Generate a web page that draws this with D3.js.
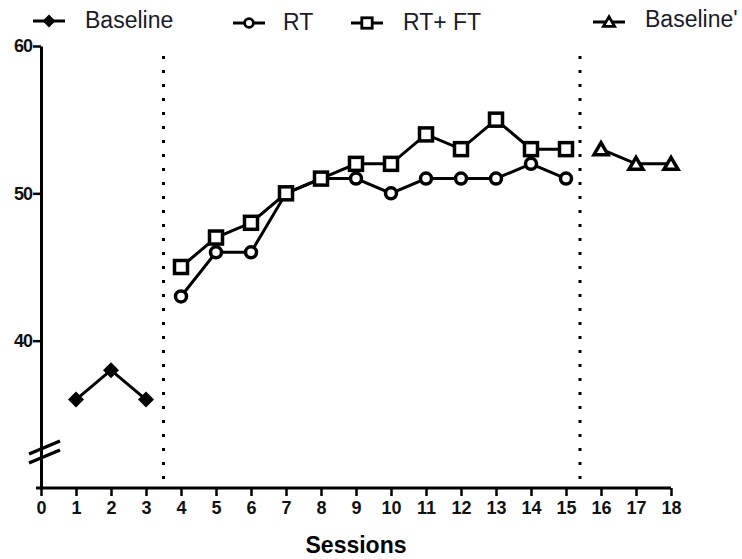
<!DOCTYPE html>
<html>
<head>
<meta charset="utf-8">
<script src="https://cdn.jsdelivr.net/npm/d3@7"></script>
<style>
  body { margin: 0; background: #fff; }
  svg { display: block; font-family: "Liberation Sans", Arial, sans-serif; }
</style>
</head>
<body>
<svg id="chart" width="742" height="559"></svg>
<script>
// phase data
const baselineX = [1, 2, 3]
const baselineY = [36, 38, 36]
const rtX = [4, 5, 6, 7, 8, 9, 10, 11, 12, 13, 14, 15]
const rtY = [43, 46, 46, 50, 51, 51, 50, 51, 51, 51, 52, 51]
const rtftX = [4, 5, 6, 7, 8, 9, 10, 11, 12, 13, 14, 15]
const rtftY = [45, 47, 48, 50, 51, 52, 52, 54, 53, 55, 53, 53]
const baseline2X = [16, 17, 18]
const baseline2Y = [53, 52, 52]
const phaseLines = [3.5, 15.4]
const xTicks = d3.range(0, 19)
const yTicks = [40, 50, 60]
const legendNames = ["Baseline", "RT", "RT+ FT", "Baseline'"]

const svg = d3.select("#chart")
const x = d3.scaleLinear().domain([0, 18]).range([41, 671])
const y = d3.scaleLinear().domain([30, 60]).range([488, 46])

// axes
const yAxis = svg.append("g")
  .attr("transform", `translate(${x(0)},0)`)
  .call(d3.axisLeft(y).tickValues(yTicks).tickSize(8).tickPadding(1).tickSizeOuter(0))
yAxis.select(".domain").attr("stroke-width", 3).attr("stroke", "#000")
yAxis.selectAll(".tick line").attr("stroke-width", 2.5)
yAxis.selectAll(".tick text")
  .attr("font-size", 18).attr("font-weight", "bold").attr("fill", "#111")
  .attr("font-family", "Liberation Sans, Arial, sans-serif")
  .attr("letter-spacing", -1)

const xAxis = svg.append("g")
  .attr("transform", `translate(0,${y(30)})`)
  .call(d3.axisBottom(x).tickValues(xTicks).tickSize(8).tickPadding(5).tickSizeOuter(0))
xAxis.select(".domain").remove()
xAxis.append("line")
  .attr("x1", x(0) - 5).attr("x2", x(18))
  .attr("stroke", "#000").attr("stroke-width", 3)
xAxis.selectAll(".tick line").attr("stroke-width", 2.5)
xAxis.selectAll(".tick text")
  .attr("font-size", 18).attr("font-weight", "bold").attr("fill", "#111")
  .attr("font-family", "Liberation Sans, Arial, sans-serif")

svg.append("text")
  .attr("x", 356).attr("y", 553)
  .attr("text-anchor", "middle")
  .attr("font-size", 23).attr("font-weight", "bold")
  .text("Sessions")

// axis break marks
const bx = x(0)
;[0, 9].forEach(off => {
  svg.append("line")
    .attr("x1", bx - 12).attr("y1", 454 + off)
    .attr("x2", bx + 19).attr("y2", 441 + off)
    .attr("stroke", "#000").attr("stroke-width", 3.5)
})

// phase change lines
svg.selectAll(".phase")
  .data(phaseLines)
  .enter()
  .append("line")
  .attr("class", "phase")
  .attr("x1", d => x(d)).attr("x2", d => x(d))
  .attr("y1", 56).attr("y2", y(30))
  .attr("stroke", "#000").attr("stroke-width", 3)
  .attr("stroke-dasharray", "3,11")

// marker drawing
function drawMarker(g, type, s) {
  s = s || 1
  if (type === "diamond") {
    g.append("path")
      .attr("d", `M0,${-8 * s}L${8 * s},0L0,${8 * s}L${-8 * s},0Z`)
      .attr("fill", "#000")
  } else if (type === "circle") {
    g.append("circle").attr("r", 5.5 * s)
      .attr("fill", "#fff").attr("stroke", "#000").attr("stroke-width", 3.5 * s)
  } else if (type === "square") {
    g.append("rect").attr("x", -6.5 * s).attr("y", -6.5 * s)
      .attr("width", 13 * s).attr("height", 13 * s)
      .attr("fill", "#fff").attr("stroke", "#000").attr("stroke-width", 3.5 * s)
  } else {
    g.append("path")
      .attr("d", `M0,${-6.5 * s}L${7 * s},${5.5 * s}L${-7 * s},${5.5 * s}Z`)
      .attr("fill", "#fff").attr("stroke", "#000").attr("stroke-width", 3.5 * s)
  }
}

const line = d3.line().x(d => x(d[0])).y(d => y(d[1]))

function drawSeries(xs, ys, type) {
  const pts = xs.map((d, i) => [d, ys[i]])
  svg.append("path")
    .datum(pts)
    .attr("d", line)
    .attr("fill", "none").attr("stroke", "#000").attr("stroke-width", 3)
  svg.selectAll(null)
    .data(pts)
    .enter()
    .append("g")
    .attr("transform", d => `translate(${x(d[0])},${y(d[1])})`)
    .each(function () { drawMarker(d3.select(this), type) })
}

drawSeries(baselineX, baselineY, "diamond")
drawSeries(rtX, rtY, "circle")
drawSeries(rtftX, rtftY, "square")
drawSeries(baseline2X, baseline2Y, "triangle")

// legend
const legendItems = [
  { name: legendNames[0], type: "diamond", cx: 49, cy: 21, tx: 85, ty: 28 },
  { name: legendNames[1], type: "circle", cx: 249, cy: 23, tx: 283, ty: 30 },
  { name: legendNames[2], type: "square", cx: 367, cy: 23, tx: 403, ty: 30 },
  { name: legendNames[3], type: "triangle", cx: 609, cy: 22, tx: 645, ty: 27 }
]
legendItems.forEach(d => {
  svg.append("line")
    .attr("x1", d.cx - 16).attr("x2", d.cx + 16)
    .attr("y1", d.cy).attr("y2", d.cy)
    .attr("stroke", "#000").attr("stroke-width", 3)
  drawMarker(svg.append("g").attr("transform", `translate(${d.cx},${d.cy})`), d.type, 0.8)
  svg.append("text")
    .attr("x", d.tx).attr("y", d.ty)
    .attr("font-size", 23).attr("fill", "#1a1a2a")
    .text(d.name)
})
</script>
</body>
</html>
